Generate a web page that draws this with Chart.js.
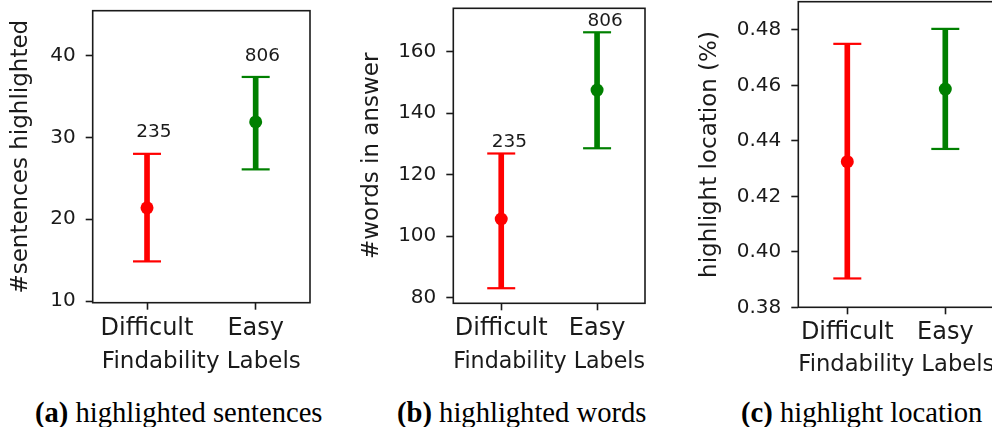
<!DOCTYPE html>
<html>
<head>
<meta charset="utf-8">
<title>Findability labels: highlighted sentences, words and location</title>
<script src="https://cdn.jsdelivr.net/npm/chart.js@4/dist/chart.umd.min.js"></script>
<style>
  html, body { margin: 0; padding: 0; background: #fff; }
  body { position: relative; width: 992px; height: 427px; overflow: hidden; }
  .panel { position: absolute; top: 0; }
  .panel canvas { display: block; }
  .cap { position: absolute; top: 399px; font-family: "Liberation Serif", "Times New Roman", serif;
         font-size: 28.6px; line-height: 28px; white-space: nowrap; color: #000; }
  .cap b { font-weight: bold; }
</style>
</head>
<body>
<div class="panel" style="left:0px"><canvas id="chartA" width="330" height="380"></canvas></div>
<div class="panel" style="left:330px"><canvas id="chartB" width="330" height="380"></canvas></div>
<div class="panel" style="left:660px"><canvas id="chartC" width="340" height="380"></canvas></div>
<div class="cap" style="left:35px"><b>(a)</b> highlighted sentences</div>
<div class="cap" style="left:397px"><b>(b)</b> highlighted words</div>
<div class="cap" style="left:741px"><b>(c)</b> highlight location</div>

<script>
// Categories and per-group colours
const categories = ['Difficult', 'Easy'];
const groupColors = ['#ff0000', '#008000'];
const groupCounts = [235, 806];

// (a) sentences highlighted: mean with lower / upper error bounds
const sentMean = [21.4, 31.9];
const sentLow  = [14.85, 26.1];
const sentHigh = [28.0, 37.4];
const sentTicks = [10, 20, 30, 40];

// (b) words in answer
const wordMean = [105.6, 147.5];
const wordLow  = [83.1, 128.6];
const wordHigh = [126.9, 166.3];
const wordTicks = [80, 100, 120, 140, 160];

// (c) highlight location
const locMean = [0.4325, 0.4587];
const locLow  = [0.3904, 0.4371];
const locHigh = [0.4750, 0.4804];
const locTicks = [0.38, 0.40, 0.42, 0.44, 0.46, 0.48];

Chart.defaults.font.family = '"DejaVu Sans", sans-serif';
Chart.defaults.color = '#1a1a1a';

const INK = '#1a1a1a';
const FRAME_W = 1.6;

// Box around the plotting area (all four sides)
const framePlugin = {
  id: 'frame',
  afterDraw(chart) {
    const a = chart.chartArea, ctx = chart.ctx;
    ctx.save();
    ctx.strokeStyle = INK;
    ctx.lineWidth = FRAME_W;
    ctx.strokeRect(a.left, a.top, a.right - a.left, a.bottom - a.top);
    ctx.restore();
  }
};

// Group size printed just above each upper error bound
const countPlugin = {
  id: 'counts',
  afterDatasetsDraw(chart, args, opts) {
    if (!opts || !opts.counts) return;
    const ctx = chart.ctx, xs = chart.scales.x, ys = chart.scales.y;
    ctx.save();
    ctx.font = '18.5px "DejaVu Sans", sans-serif';
    ctx.fillStyle = INK;
    ctx.textAlign = 'left';
    ctx.textBaseline = 'alphabetic';
    opts.counts.forEach((n, i) => {
      const x = xs.getPixelForValue(i - 0.1);
      const y = ys.getPixelForValue(opts.high[i] + opts.gap);
      ctx.fillText(String(n), x, y);
    });
    ctx.restore();
  }
};

function makePanel(id, cfg) {
  const datasets = [
    { // error bar stems
      type: 'bar',
      data: categories.map((c, i) => [cfg.low[i], cfg.high[i]]),
      backgroundColor: groupColors,
      borderWidth: 0,
      barThickness: 5,
      grouped: false,
      order: 3
    },
    { // upper caps
      type: 'line', showLine: false,
      data: cfg.high,
      pointStyle: 'line', pointRadius: 14, pointHoverRadius: 14,
      pointBorderWidth: 2.2, pointBorderColor: groupColors,
      clip: false,
      order: 2
    },
    { // lower caps
      type: 'line', showLine: false,
      data: cfg.low,
      pointStyle: 'line', pointRadius: 14, pointHoverRadius: 14,
      pointBorderWidth: 2.2, pointBorderColor: groupColors,
      clip: false,
      order: 2
    },
    { // means
      type: 'line', showLine: false,
      data: cfg.mean,
      pointStyle: 'circle', pointRadius: 6.5, pointHoverRadius: 6.5,
      pointBorderWidth: 0, pointBackgroundColor: groupColors,
      order: 1
    }
  ];

  return new Chart(document.getElementById(id), {
    type: 'bar',
    data: { labels: categories, datasets },
    plugins: [framePlugin, countPlugin],
    options: {
      responsive: false,
      animation: false,
      events: [],
      layout: { autoPadding: false,
                padding: { top: cfg.padTop, right: cfg.padRight, left: 0, bottom: 0 } },
      plugins: {
        legend: { display: false },
        tooltip: { enabled: false },
        counts: cfg.counts ? { counts: cfg.counts, high: cfg.high, gap: cfg.gap } : false
      },
      scales: {
        x: {
          type: 'category',
          offset: true,
          border: { display: false },
          grid: { display: true, drawOnChartArea: false, drawTicks: true,
                  tickLength: 7, tickWidth: FRAME_W, tickColor: INK, offset: false },
          ticks: { font: { size: 24 }, color: INK, padding: cfg.xTickPad,
                   maxRotation: 0, autoSkip: false },
          title: { display: true, text: 'Findability Labels', color: INK,
                   font: { size: 23 }, padding: { top: 0, bottom: cfg.xTitlePad } },
          afterFit(s) { s.height = cfg.xHeight; s.paddingLeft = 0; s.paddingRight = 0; }
        },
        y: {
          type: 'linear',
          min: cfg.min, max: cfg.max,
          border: { display: false },
          grid: { display: true, drawOnChartArea: false, drawTicks: true,
                  tickLength: 7, tickWidth: FRAME_W, tickColor: INK },
          ticks: { font: { size: 20 }, color: INK, padding: 10,
                   callback: v => cfg.fmt(v) },
          afterBuildTicks(s) { s.ticks = cfg.ticks.map(v => ({ value: v })); },
          title: { display: true, text: cfg.yTitle, color: INK,
                   font: { size: 23 }, padding: { top: cfg.yTitlePad, bottom: 0 } },
          afterFit(s) { s.width = cfg.yWidth; s.paddingTop = 0; s.paddingBottom = 0; }
        }
      }
    }
  });
}

makePanel('chartA', {
  mean: sentMean, low: sentLow, high: sentHigh, ticks: sentTicks,
  min: 9.8, max: 45.5, fmt: v => String(v),
  yTitle: '#sentences highlighted', counts: groupCounts, gap: 2,
  padTop: 10.7, padRight: 20, yWidth: 92.7, xHeight: 77.3,
  yTitlePad: 7, xTickPad: 4.3, xTitlePad: 4.2
});

makePanel('chartB', {
  mean: wordMean, low: wordLow, high: wordHigh, ticks: wordTicks,
  min: 78.2, max: 174.1, fmt: v => String(v),
  yTitle: '#words in answer', counts: groupCounts, gap: 2,
  padTop: 8.3, padRight: 15, yWidth: 123.3, xHeight: 76.7,
  yTitlePad: 28, xTickPad: 4.3, xTitlePad: 4.2
});

makePanel('chartC', {
  mean: locMean, low: locLow, high: locHigh, ticks: locTicks,
  min: 0.38, max: 0.4902, fmt: v => v.toFixed(2),
  yTitle: 'highlight location (%)', counts: null, gap: 0,
  padTop: 1.7, padRight: 5.7, yWidth: 138.3, xHeight: 72.7,
  yTitlePad: 36, xTickPad: 4.3, xTitlePad: 1.5
});
</script>
</body>
</html>
